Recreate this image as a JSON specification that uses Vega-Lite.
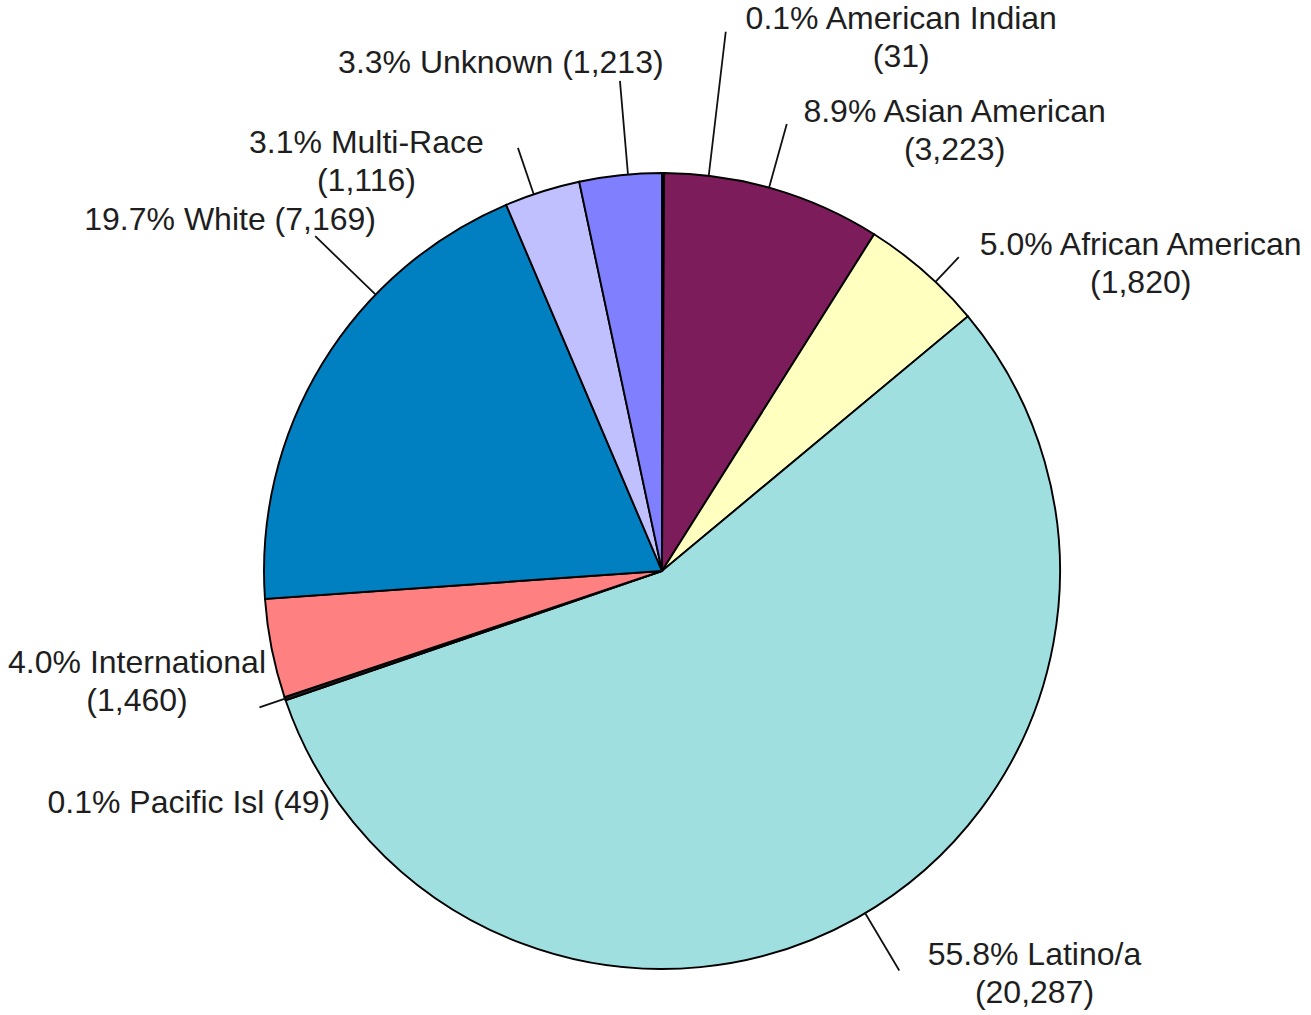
{
  "$schema": "https://vega.github.io/schema/vega-lite/v6.json",
  "width": 1298,
  "height": 888,
  "autosize": {"type": "none"},
  "padding": {"left": 13, "top": 127, "right": 0, "bottom": 0},
  "background": "white",
  "view": {"stroke": null},
  "params": [
    {
      "name": "lab",
      "value": {
        "American Indian": {"t": 0.115, "r1": 543, "dash": [5000, 0], "dx": 238, "dy": -72},
        "Asian American": {"t": -0.0115, "r1": 464, "dash": [5000, 0], "dx": 161, "dy": 2},
        "African American": {"t": 0.038, "r1": 432, "dash": [5000, 0], "dx": 169, "dy": 38},
        "Latino/a": {"t": 0.1583, "r1": 465, "dash": [0, 169.2, 67, 100000], "dx": 142, "dy": -16},
        "Pacific Isl": {"t": 0, "r1": 425, "dash": [5000, 0], "dx": -28, "dy": 91},
        "International": {"t": 0, "r1": 398, "dash": [5000, 0], "dx": -64, "dy": 10},
        "White": {"t": 0.2187, "r1": 482, "dash": [5000, 0], "dx": -31, "dy": -96},
        "Multi-Race": {"t": -0.0222, "r1": 447, "dash": [5000, 0], "dx": -154, "dy": 30},
        "Unknown": {"t": 0.0192, "r1": 492, "dash": [5000, 0], "dx": -112, "dy": -31}
      }
    }
  ],
  "data": {
    "values": [
      {"cat": "American Indian", "value": 31, "idx": 1, "label": "0.1% American Indian\n(31)"},
      {"cat": "Asian American", "value": 3223, "idx": 2, "label": "8.9% Asian American\n(3,223)"},
      {"cat": "African American", "value": 1820, "idx": 3, "label": "5.0% African American\n(1,820)"},
      {"cat": "Latino/a", "value": 20287, "idx": 4, "label": "55.8% Latino/a\n(20,287)"},
      {"cat": "Pacific Isl", "value": 49, "idx": 5, "label": "0.1% Pacific Isl (49)"},
      {"cat": "International", "value": 1460, "idx": 6, "label": "4.0% International\n(1,460)"},
      {"cat": "White", "value": 7169, "idx": 7, "label": "19.7% White (7,169)"},
      {"cat": "Multi-Race", "value": 1116, "idx": 8, "label": "3.1% Multi-Race\n(1,116)"},
      {"cat": "Unknown", "value": 1213, "idx": 9, "label": "3.3% Unknown (1,213)"}
    ]
  },
  "encoding": {
    "theta": {"field": "value", "type": "quantitative", "stack": true},
    "order": {"field": "idx", "type": "quantitative"},
    "detail": {"field": "cat", "type": "nominal"}
  },
  "layer": [
    {
      "mark": {"type": "arc", "radius": 398, "stroke": "#000000", "strokeWidth": 1.9},
      "encoding": {
        "color": {
          "field": "cat",
          "type": "nominal",
          "scale": {
            "domain": ["American Indian", "Asian American", "African American", "Latino/a", "Pacific Isl", "International", "White", "Multi-Race", "Unknown"],
            "range": ["#202020", "#7D1C5A", "#FFFFC0", "#A0DFE0", "#202020", "#FF8080", "#0080C0", "#C0C0FF", "#8080FF"]
          },
          "legend": null
        }
      }
    },
    {
      "mark": {
        "type": "arc",
        "filled": false,
        "padAngle": 3,
        "radius": {"expr": "lab[datum.cat].r1"},
        "radius2": 398,
        "thetaOffset": {"expr": "lab[datum.cat].t"},
        "strokeDash": {"expr": "lab[datum.cat].dash"},
        "stroke": "#111111",
        "strokeWidth": 1.8
      }
    },
    {
      "mark": {
        "type": "text",
        "radius": 470,
        "lineBreak": "\n",
        "font": "Liberation Sans",
        "fontSize": 32,
        "lineHeight": 38,
        "align": "center",
        "baseline": "alphabetic",
        "fill": "#1e1e1e",
        "dx": {"expr": "lab[datum.cat].dx"},
        "dy": {"expr": "lab[datum.cat].dy"}
      },
      "encoding": {"text": {"field": "label", "type": "nominal"}}
    }
  ]
}
